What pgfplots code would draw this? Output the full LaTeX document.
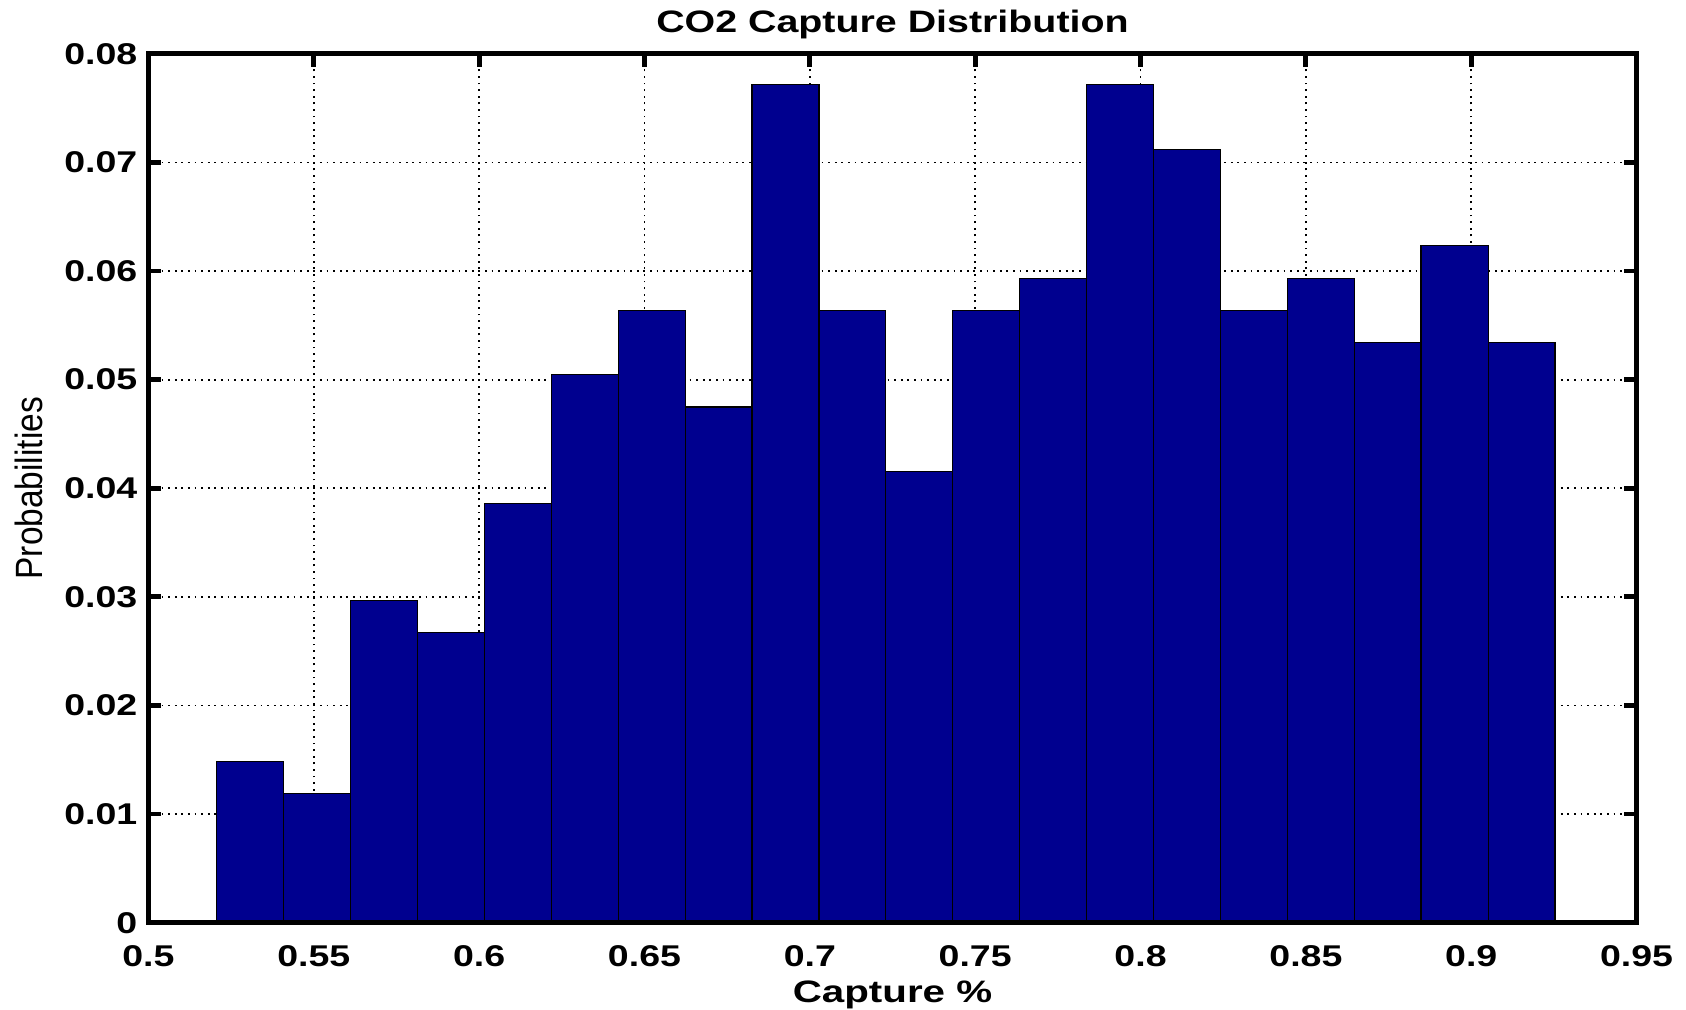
\documentclass[border=0pt]{standalone}
\usepackage{fontspec}
\setmainfont{Liberation Sans}
\usepackage{graphicx}
\usepackage{pgfplots}
\pgfplotsset{compat=1.18}
\definecolor{histblue}{RGB}{0,0,143}

% bin left edges and probabilities (counts / 337)
\pgfplotstableread{
x        p
0.5207   0.014837
0.5409   0.011869
0.5612   0.029674
0.5814   0.026706
0.6016   0.038576
0.6219   0.050445
0.6421   0.056380
0.6623   0.047478
0.6825   0.077151
0.7028   0.056380
0.7230   0.041543
0.7432   0.056380
0.7635   0.059347
0.7837   0.077151
0.8039   0.071217
0.8242   0.056380
0.8444   0.059347
0.8646   0.053412
0.8848   0.062315
0.9051   0.053412
0.9253   0.053412
}\capturedata

\begin{document}
\begin{tikzpicture}
\path[use as bounding box] (-74.2pt,-43.65pt) rectangle (768.8pt,461.35pt);
\begin{axis}[
  at={(0pt,0pt)}, anchor=south west,
  width=744.1pt, height=434.45pt, scale only axis,
  xmin=0.5, xmax=0.95, ymin=0, ymax=0.08,
  xtick={0.5,0.55,0.6,0.65,0.7,0.75,0.8,0.85,0.9,0.95},
  ytick={0,0.01,0.02,0.03,0.04,0.05,0.06,0.07,0.08},
  scaled x ticks=false, scaled y ticks=false,
  grid=major,
  major grid style={black, line width=0.9pt, dash pattern=on 0.9pt off 2.4pt},
  tick align=inside,
  major tick length=6.5pt,
  every tick/.style={black, line width=2.4pt},
  axis line style={line width=2.3pt},
  xticklabel={\scalebox{1.25}[1]{\fontsize{15}{18}\selectfont\bfseries\pgfmathprintnumber[fixed,precision=2,assume math mode=true]{\tick}}},
  yticklabel={\scalebox{1.25}[1]{\fontsize{15}{18}\selectfont\bfseries\pgfmathprintnumber[fixed,precision=2,assume math mode=true]{\tick}}},
  xticklabel style={yshift=-7.9pt},
  yticklabel style={xshift=-2pt},
  title={\scalebox{1.27}[1]{\fontsize{15.5}{18}\selectfont\bfseries CO2 Capture Distribution}},
  title style={at={(axis description cs:0.5,1.0104)}, anchor=base},
  xlabel={\scalebox{1.3}[1]{\fontsize{15.5}{18}\selectfont\bfseries Capture \%}},
  xlabel style={at={(axis description cs:0.5,-0.0914)}, anchor=base},
  ylabel={\scalebox{0.88}[1]{\fontsize{19}{22}\selectfont Probabilities}},
  ylabel style={at={(axis description cs:-0.0712,0.5)}, anchor=base},
]
\addplot[ybar interval, fill=histblue, draw=black, line width=0.6pt] table[x=x, y=p] {\capturedata};
\draw[line width=2.3pt] (rel axis cs:0,0) rectangle (rel axis cs:1,1);
\end{axis}
\end{tikzpicture}
\end{document}
